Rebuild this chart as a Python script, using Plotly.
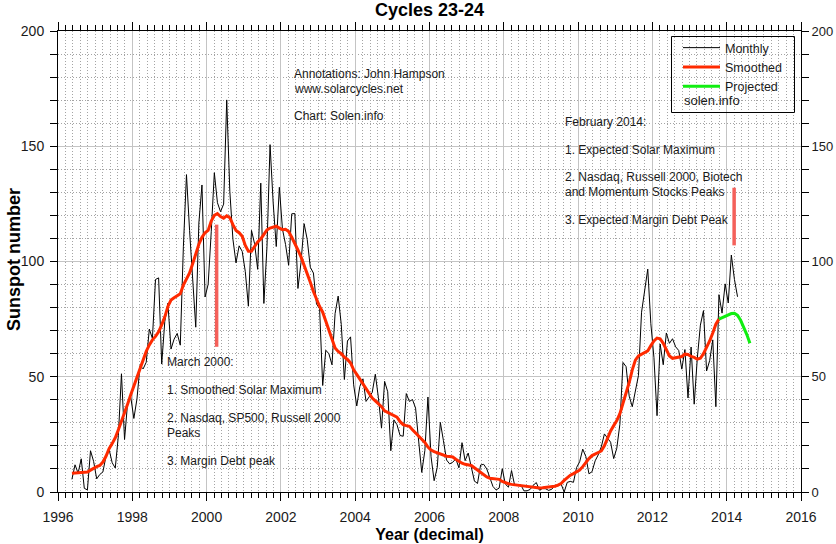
import plotly.graph_objects as go

# ---------------- data ----------------
# Monthly sunspot numbers, May 1996 .. Apr 2014
monthly_start = (1996, 5)
monthly = [
    5.5, 11.8, 8.2, 14.4, 1.6, 0.9, 17.9, 13.3,
    5.7, 7.6, 8.7, 15.5, 18.5, 12.7, 10.4, 24.4, 51.3, 22.8, 39.0, 41.2,
    31.9, 40.3, 54.8, 53.4, 56.3, 70.7, 66.6, 92.2, 92.9, 55.5, 74.0, 81.9,
    62.0, 66.3, 68.8, 63.7, 106.4, 137.7, 113.5, 93.7, 71.5, 116.7, 133.2, 84.6,
    90.1, 112.9, 138.5, 125.5, 121.6, 124.9, 170.1, 130.5, 109.7, 99.4, 106.8, 104.4,
    95.6, 80.6, 113.5, 107.7, 96.6, 134.0, 81.8, 106.4, 150.7, 125.5, 106.5, 132.2,
    114.1, 107.4, 98.4, 120.7, 120.8, 88.3, 99.6, 116.4, 109.6, 97.5, 95.0, 81.6,
    79.5, 46.2, 61.5, 60.0, 55.2, 77.4, 85.0, 72.7, 48.8, 65.5, 67.3, 46.5,
    37.3, 45.8, 49.1, 39.3, 41.5, 43.2, 51.1, 40.9, 27.7, 48.0, 43.5, 17.9,
    31.3, 29.2, 24.5, 24.2, 42.7, 39.3, 40.1, 36.4, 22.1, 8.5, 18.0, 41.2,
    15.3, 4.9, 10.6, 30.2, 22.3, 13.9, 12.2, 12.9, 14.4, 10.5, 21.4, 13.6,
    16.9, 10.6, 4.8, 3.7, 11.7, 12.0, 10.0, 6.2, 2.4, 0.9, 1.7, 10.1,
    3.4, 2.1, 9.3, 2.9, 2.9, 3.1, 0.5, 0.5, 1.1, 2.9, 4.1, 0.8,
    1.5, 1.4, 0.7, 1.2, 2.9, 2.6, 3.5, 0.0, 4.2, 4.6, 4.2, 10.6,
    13.1, 18.6, 15.4, 7.9, 8.8, 13.5, 16.1, 19.6, 25.2, 23.5, 21.6, 14.5,
    19.0, 29.4, 56.2, 54.4, 41.6, 37.0, 43.9, 50.6, 78.0, 88.0, 96.7, 73.0,
    58.3, 33.1, 64.2, 55.2, 69.0, 64.5, 66.5, 63.0, 61.4, 53.3, 61.8, 40.8,
    62.9, 38.1, 57.9, 72.4, 78.7, 52.5, 57.0, 66.0, 37.0, 85.6, 77.6, 90.3,
    82.0, 102.8, 92.2, 84.7,
]

# 13-month smoothed sunspot number, May 1996 .. Oct 2013
smoothed_start = (1996, 5)
smoothed = [
    8.1, 8.2, 8.2, 8.3, 8.4, 8.7, 9.5, 10.3,
    11.0, 11.5, 13.0, 15.5, 18.8, 21.0, 23.5, 27.0, 30.5, 34.0, 38.2, 42.2,
    46.0, 50.5, 54.0, 57.5, 61.0, 63.8, 66.0, 67.5, 69.5, 72.5, 76.0, 80.5,
    83.3, 84.3, 85.0, 86.0, 89.8, 92.5, 95.0, 99.0, 103.5, 107.5, 110.5, 112.5,
    113.5, 117.5, 120.0, 120.8, 119.5, 118.8, 119.8, 119.0, 116.0, 113.5, 112.5, 111.0,
    107.0, 104.5, 104.5, 106.5, 108.5, 109.8, 111.5, 113.7, 114.5, 115.0, 115.3, 114.5,
    113.8, 114.0, 113.0, 110.5, 108.0, 105.0, 102.0, 98.5, 95.0, 91.0, 87.0, 83.5,
    80.5, 78.0, 74.0, 69.5, 66.0, 62.5, 61.0, 60.0, 58.5, 57.5, 56.0, 53.0,
    51.0, 49.0, 46.5, 44.5, 42.5, 40.8, 39.5, 38.3, 37.0, 35.2, 34.5, 34.0,
    33.3, 32.5, 30.5, 29.2, 28.8, 28.5, 27.0, 25.5, 24.3, 23.0, 21.5, 19.5,
    18.2, 17.5, 17.0, 16.5, 15.8, 15.5, 15.4, 15.2, 14.2, 13.2, 12.5, 12.0,
    11.8, 11.5, 10.5, 9.5, 8.5, 7.5, 6.5, 6.0, 5.9, 5.9, 5.5, 4.6,
    4.0, 3.6, 3.3, 3.1, 3.0, 2.8, 2.6, 2.3, 2.0, 1.8, 1.7, 1.7,
    1.8, 1.9, 2.0, 2.2, 2.5, 3.0, 3.7, 5.0, 6.3, 7.3, 8.0, 8.8,
    9.5, 11.0, 12.8, 14.5, 15.8, 16.5, 16.9, 17.8, 20.0, 23.5, 26.5, 28.8,
    31.0, 34.0, 38.5, 42.0, 47.5, 53.0, 57.2, 59.0, 59.7, 60.2, 61.2, 63.5,
    65.5, 66.8, 66.5, 64.5, 61.8, 59.0, 58.0, 58.2, 58.3, 58.8, 59.8, 59.7,
    58.8, 58.4, 57.6, 58.0, 60.0, 62.6, 65.5, 69.0, 72.8, 75.0,
]

# Projected smoothed, Oct 2013 .. Aug 2014
projected_start = (2013, 10)
projected = [75.0, 75.6, 76.5, 77.1, 77.4, 77.5, 76.6, 74.5, 71.5, 68.3, 64.5]

# Event markers (decimal year, low, high)
marker_x = [2000.27, 2014.20]
marker_lo = [63, 107]
marker_hi = [116, 132]

x_ticks = [1996, 1998, 2000, 2002, 2004, 2006, 2008, 2010, 2012, 2014, 2016]
y_ticks = [0, 50, 100, 150, 200]


def decimal_years(start, n):
    y0, m0 = start
    return [y0 + (m0 - 1 + i + 0.5) / 12.0 for i in range(n)]


# ---------------- figure ----------------
W, H = 836, 544
PL, PR, PT, PB = 58, 801, 31, 492   # plot area in pixels


def fx(p):
    return (p - PL) / (PR - PL)


def fy(p):
    return (PB - p) / (PB - PT)


BASE = "Liberation Sans, Arial, sans-serif"
TXT = "#1a1a1a"

fig = go.Figure()
fig.add_trace(go.Scatter(x=decimal_years(monthly_start, len(monthly)), y=monthly,
                         mode="lines", name="Monthly",
                         line=dict(color="black", width=1)))
fig.add_trace(go.Scatter(x=decimal_years(smoothed_start, len(smoothed)), y=smoothed,
                         mode="lines", name="Smoothed",
                         line=dict(color="#ff2a00", width=3)))
fig.add_trace(go.Scatter(x=decimal_years(projected_start, len(projected)), y=projected,
                         mode="lines", name="Projected",
                         line=dict(color="#11ee11", width=3),
                         xaxis="x2", yaxis="y2"))

for mx, lo, hi in zip(marker_x, marker_lo, marker_hi):
    fig.add_shape(type="line", xref="x", yref="y", x0=mx, x1=mx, y0=lo, y1=hi,
                  line=dict(color="#f4605a", width=3.5))

# legend frame (transparent, grid shows through)
fig.add_shape(type="rect", xref="paper", yref="paper",
              x0=fx(671.5), x1=fx(794.5), y0=fy(112.5), y1=fy(36.5),
              line=dict(color="black", width=1), fillcolor="rgba(0,0,0,0)")

texts = [
    ("Annotations: John Hampson", 292, 74),
    ("www.solarcycles.net", 292, 89),
    ("Chart: Solen.info", 292, 116),
    ("February 2014:", 563, 122),
    ("1. Expected Solar Maximum", 563, 150),
    ("2. Nasdaq, Russell 2000, Biotech", 563, 177),
    ("and Momentum Stocks Peaks", 563, 192),
    ("3. Expected Margin Debt Peak", 563, 220),
    ("March 2000:", 165, 362),
    ("1. Smoothed Solar Maximum", 165, 390),
    ("2. Nasdaq, SP500, Russell 2000", 165, 418),
    ("Peaks", 165, 433),
    ("3. Margin Debt peak", 165, 461),
]
for t, x, y in texts:
    fig.add_annotation(text=t, xref="paper", yref="paper", x=fx(x), y=fy(y),
                       xanchor="left", yanchor="middle", showarrow=False,
                       font=dict(family=BASE, size=12, color=TXT))

fig.add_annotation(text="solen.info", xref="paper", yref="paper", x=fx(682), y=fy(101),
                   xanchor="left", yanchor="middle", showarrow=False,
                   font=dict(family=BASE, size=13, color=TXT))

# y-axis title placed explicitly
fig.add_annotation(text="<b>Sunspot number</b>", xref="paper", yref="paper",
                   x=fx(14), y=fy(260), xanchor="center", yanchor="middle",
                   textangle=-90, showarrow=False,
                   font=dict(family=BASE, size=18, color="black"))

tickfont = dict(family=BASE, size=14, color=TXT)
tickfont_r = dict(family=BASE, size=13, color=TXT)
grid_major = "#c4c4c4"
grid_minor = "#a4a4a4"

fig.update_layout(
    width=W, height=H,
    margin=dict(l=PL, r=W - PR, t=PT, b=H - PB, pad=0),
    paper_bgcolor="white", plot_bgcolor="white",
    title=dict(text="<b>Cycles 23-24</b>", x=0.5, xref="paper", xanchor="center",
               y=1 - 10 / H, yref="container", yanchor="middle",
               font=dict(family=BASE, size=18, color="black")),
    showlegend=True,
    legend=dict(x=fx(678), y=fy(33), xanchor="left", yanchor="top",
                bgcolor="rgba(0,0,0,0)", borderwidth=0, itemwidth=37,
                font=dict(family=BASE, size=12.5, color=TXT), tracegroupgap=0),
    xaxis=dict(range=[1996, 2016], tickvals=x_ticks, ticks="outside", ticklen=8,
               tickcolor="black", tickwidth=1, showline=True, linecolor="black",
               linewidth=1, showgrid=True, gridcolor=grid_major, gridwidth=1,
               zeroline=False, tickfont=tickfont, automargin=False,
               ticklabelstandoff=4,
               minor=dict(dtick=0.2, tick0=1996, ticks="outside", ticklen=5,
                          tickcolor="black", showgrid=True, gridcolor=grid_minor,
                          griddash="1px,2px", gridwidth=1),
               title=dict(text="<b>Year (decimal)</b>", standoff=5,
                          font=dict(family=BASE, size=16, color="black"))),
    xaxis2=dict(range=[1996, 2016], overlaying="x", side="top", anchor="y2",
                tickvals=x_ticks, ticks="outside", ticklen=8, tickcolor="black",
                showticklabels=False, showline=True, linecolor="black", linewidth=1,
                showgrid=False, zeroline=False, automargin=False,
                minor=dict(dtick=0.2, tick0=1996, ticks="outside", ticklen=5,
                           tickcolor="black", showgrid=False)),
    yaxis=dict(range=[0, 200], tickvals=y_ticks, ticks="outside", ticklen=7,
               tickcolor="black", showline=True, linecolor="black", linewidth=1,
               showgrid=True, gridcolor=grid_major, gridwidth=1, zeroline=False,
               tickfont=tickfont, automargin=False, ticklabelstandoff=3,
               minor=dict(dtick=10, tick0=0, ticks="outside", ticklen=7,
                          tickcolor="black", showgrid=True, gridcolor=grid_minor,
                          griddash="1px,2px", gridwidth=1)),
    yaxis2=dict(range=[0, 200], overlaying="y", side="right", anchor="x2",
                tickvals=y_ticks, ticks="outside", ticklen=7, tickcolor="black",
                showline=True, linecolor="black", linewidth=1, showgrid=False,
                zeroline=False, tickfont=tickfont_r, automargin=False,
                ticklabelstandoff=0,
                minor=dict(dtick=10, tick0=0, ticks="outside", ticklen=7,
                           tickcolor="black", showgrid=False)),
)

# remove the browser's default 8px page margin so the figure fills the window
fig.write_html("out.html",
               config={"displayModeBar": False},
               post_script="document.body.style.margin='0';"
                           "document.body.style.overflow='hidden';")
